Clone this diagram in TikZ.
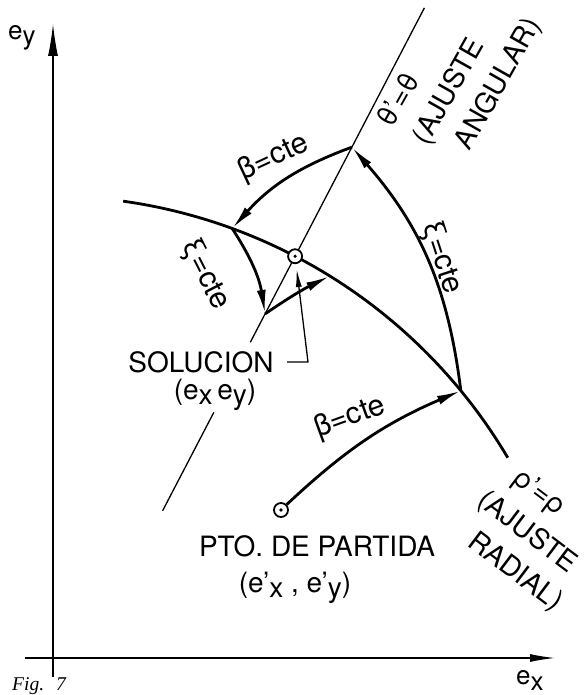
\documentclass[tikz,border=0pt]{standalone}
\usepackage{fontspec}
\setmainfont{TeX Gyre Heros}
\newfontfamily\figfont{Liberation Serif}
\usetikzlibrary{arrows.meta,calc}
\newcommand\lsub[1]{\raisebox{-5pt}{#1}}
\begin{document}
\begin{tikzpicture}[x=1pt,y=1pt,
  lbl/.style={font=\fontsize{28}{32}\selectfont, inner sep=0pt},
  glbl/.style={font=\fontsize{30}{34}\selectfont, inner sep=0pt},
  grp/.style={font=\fontsize{28}{39}\selectfont, inner sep=0pt, align=center},
  axlbl/.style={font=\fontsize{26}{30}\selectfont, inner sep=0pt},
  thinln/.style={line width=1.3pt},
  thickln/.style={line width=2.8pt},
  curvetip/.style={-{Latex[length=24pt,width=9pt]}},
  marker/.style={circle, draw, line width=1.8pt, fill=white, minimum size=14pt, inner sep=0pt}]
\useasboundingbox (0,0) rectangle (586,695);
\coordinate (O) at (49,-34);
% axes
\coordinate (yb) at (53,18);
\coordinate (yt) at (53,671);
\coordinate (xl) at (25,37);
\coordinate (xr) at (555,37);
\draw[thinln,-{Latex[length=32pt,width=10pt]}] (yb) -- (yt);
\draw[thinln,-{Latex[length=25pt,width=8pt]}] (xl) -- (xr);
\node[axlbl,anchor=base west] (ey) at (8,655) {e\lsub{y}};
\node[axlbl,anchor=base west] (ex) at (516,10) {e\lsub{x}};
\node[inner sep=0pt,anchor=base west,font=\figfont\itshape\fontsize{19.5}{24}\selectfont] (fig) at (12,4.5) {Fig.\hspace{12pt}7};
% points
\coordinate (A) at ($(O)+(62.5:656)$);
\coordinate (B) at ($(O)+(69.9:533)$);
\coordinate (C) at ($(O)+(62.5:468)$);
\coordinate (D) at ($(O)+(39.4:533)$);
\coordinate (E) at ($(O)+(58.2:533)$);
\coordinate (R1) at ($(O)+(62.5:246)$);
\coordinate (R2) at ($(O)+(62.5:357)$);
\coordinate (R3) at ($(O)+(62.5:436)$);
\coordinate (R4) at ($(O)+(62.5:813)$);
\coordinate (Q1) at ($(O)+(82:533)$);
% radial line and rho arc
\draw[thinln] (R1) -- (R2);
\draw[thinln] (R3) -- (R4);
\draw[thickln] (Q1) arc[start angle=82,end angle=30.6,radius=533];
% starting point
\node[marker] (P) at (281,185) {};
\fill (P) circle (1.8pt);
% iteration curves
\draw[thickln,curvetip] (P) to[bend left=10] (D);
\draw[thickln,curvetip] (D) to[bend right=17] (A);
\draw[thickln,curvetip] (A) to[bend right=14] (B);
\draw[thickln,curvetip] (B) to[bend left=12] (C);
\draw[thickln,curvetip] (C) to[bend left=4] (E);
% solution
\node[marker] (S) at ($(O)+(62.5:533)$) {};
\fill (S) circle (1.8pt);
\coordinate (L1) at (287,333);
\coordinate (L2) at (308,333);
\draw[thinln,-{Latex[length=18pt,width=6pt]},shorten >=5pt] (L1) -- (L2) -- (S);
% labels
\node[lbl,anchor=base] (sol) at (201,322) {SOLUCION};
\node[lbl,anchor=base] (solxy) at (215,295) {(e\lsub{x}\,e\lsub{y})};
\node[lbl,anchor=base] (pto) at (317,138) {PTO. DE PARTIDA};
\node[lbl,anchor=base] (ptoxy) at (295,102) {(e'\lsub{x} , e'\lsub{y})};
\node[glbl,rotate=25] (b1) at (274,537) {β=cte};
\node[glbl,rotate=20] (b2) at (350,277) {β=cte};
\node[glbl,rotate=-63] (x1) at (205,420) {ξ=cte};
\node[glbl,rotate=-72] (x2) at (441,437) {ξ=cte};
\node[grp,rotate=60.5] (tg) at (450,603) {θ'=θ\hspace*{65pt}\\(AJUSTE\\\hspace*{62pt}ANGULAR)};
\node[grp,rotate=-37] (rg) at (527,162) {ρ'=ρ\hspace*{29pt}\\(AJUSTE\\\hspace*{28pt}RADIAL)};
\end{tikzpicture}
\end{document}
